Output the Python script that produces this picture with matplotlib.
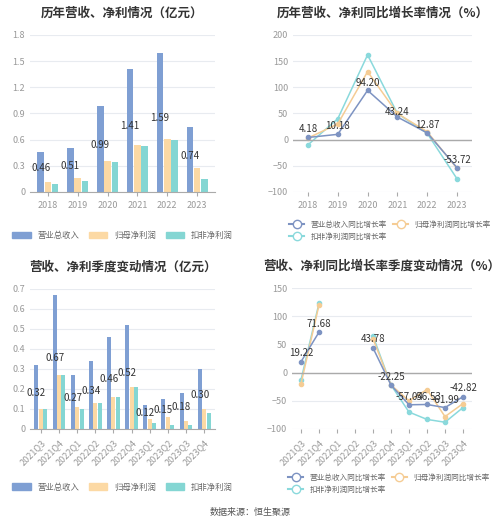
import matplotlib
matplotlib.use("Agg")
import matplotlib.pyplot as plt
import numpy as np
from matplotlib.lines import Line2D
from matplotlib.patches import Patch

plt.rcParams["font.family"] = ["Noto Sans CJK SC", "DejaVu Sans"]

years = ["2018", "2019", "2020", "2021", "2022", "2023"]
rev_y = [0.46, 0.51, 0.99, 1.41, 1.59, 0.74]
np_y = [0.12, 0.16, 0.36, 0.54, 0.61, 0.28]
kf_y = [0.09, 0.13, 0.34, 0.53, 0.60, 0.15]

rev_yg = [4.18, 10.18, 94.20, 43.24, 12.87, -53.72]
np_yg = [3, 30, 130, 50, 15, -55]
kf_yg = [-10, 40, 162, 50, 12, -75]

quarters = ["2021Q3", "2021Q4", "2022Q1", "2022Q2", "2022Q3", "2022Q4",
            "2023Q1", "2023Q2", "2023Q3", "2023Q4"]
rev_q = [0.32, 0.67, 0.27, 0.34, 0.46, 0.52, 0.12, 0.15, 0.18, 0.30]
np_q = [0.10, 0.27, 0.11, 0.13, 0.16, 0.21, 0.05, 0.06, 0.04, 0.10]
kf_q = [0.10, 0.27, 0.10, 0.13, 0.16, 0.21, 0.03, 0.02, 0.02, 0.08]

nan = np.nan
rev_qg = [19.22, 71.68, nan, nan, 43.78, -22.25, -57.04, -56.53, -61.99, -42.82]
np_qg = [-20, 120, nan, nan, 60, -22, -50, -30, -78, -55]
kf_qg = [-13, 123, nan, nan, 65, -22, -70, -83, -88, -62]

C_REV = "#7f9fd3"
C_NP = "#fcd9a4"
C_KF = "#84d6d3"
C_REV_L = "#7d93c2"
C_NP_L = "#f5cc94"
C_KF_L = "#8ad9dc"
GRID = "#e8ebf0"
TICK = "#999999"

W, H = 500, 524
fig = plt.figure(figsize=(W / 100, H / 100), dpi=100)


def px_axes(l, r, top, bot):
    return fig.add_axes([l / W, 1 - bot / H, (r - l) / W, (bot - top) / H])


def style(ax):
    for s in ["top", "right", "left"]:
        ax.spines[s].set_visible(False)
    ax.spines["bottom"].set_color("#aaaaaa")
    ax.tick_params(axis="both", colors=TICK, labelsize=6.5, length=0)
    ax.tick_params(axis="x", length=3, color="#aaaaaa")
    ax.grid(axis="y", color=GRID, linewidth=0.8)
    ax.set_axisbelow(True)


def bars(ax, cats, a, b, c, labels_fmt, width=0.22):
    x = np.arange(len(cats))
    ax.bar(x - width * 1.1, a, width, color=C_REV)
    ax.bar(x, b, width, color=C_NP)
    ax.bar(x + width * 1.1, c, width, color=C_KF)
    for xi, v in zip(x, a):
        ax.text(xi - width * 1.1, v / 2 + 0.03 * max(a), labels_fmt.format(v), ha="center", va="center",
                fontsize=7, color="#333333")
    ax.set_xticks(x)
    ax.set_xlim(-0.6, len(cats) - 0.4)
    style(ax)


def lines(ax, cats, a, b, c, labels, offsets):
    x = np.arange(len(cats))
    for ys, col in [(c, C_KF_L), (b, C_NP_L), (a, C_REV_L)]:
        ax.plot(x, ys, color=col, linewidth=1.1, marker="o", markersize=3,
                markerfacecolor=col)
    for xi, v, lab, off in zip(x, a, labels, offsets):
        if lab:
            ax.text(xi, v + off, lab, ha="center", va="center", fontsize=7, color="#333333")
    ax.axhline(0, color="#aaaaaa", linewidth=1)
    ax.set_xticks(x)
    ax.set_xlim(-0.5, len(cats) - 0.5)
    style(ax)
    ax.spines["bottom"].set_visible(False)


bar_legend = [Patch(color=C_REV, label="营业总收入"), Patch(color=C_NP, label="归母净利润"),
              Patch(color=C_KF, label="扣非净利润")]
# column-wise fill: rev, np on first row, kf on second
line_legend = [Line2D([0], [0], color=C_REV_L, marker="o", markerfacecolor="white", label="营业总收入同比增长率"),
               Line2D([0], [0], color=C_KF_L, marker="o", markerfacecolor="white", label="扣非净利润同比增长率"),
               Line2D([0], [0], color=C_NP_L, marker="o", markerfacecolor="white", label="归母净利润同比增长率")]

TITLE = dict(fontsize=9, fontweight="bold", color="#333333", pad=13)

# top-left
ax1 = px_axes(30, 215, 35, 192)
bars(ax1, years, rev_y, np_y, kf_y, "{:.2f}")
ax1.set_xticklabels(years)
ax1.set_ylim(0, 1.8)
ax1.set_yticks([0, 0.3, 0.6, 0.9, 1.2, 1.5, 1.8])
ax1.set_yticklabels(["0", "0.3", "0.6", "0.9", "1.2", "1.5", "1.8"])
ax1.set_title("历年营收、净利情况（亿元）", **TITLE)
ax1.legend(handles=bar_legend, loc="upper center", bbox_to_anchor=(0.5, -0.2), ncol=3, frameon=False,
           fontsize=6, labelcolor="#666666", handlelength=2.2, handleheight=0.9, columnspacing=1.2)

# top-right
ax2 = px_axes(293, 472, 35, 192)
lines(ax2, years, rev_yg, np_yg, kf_yg,
      ["4.18", "10.18", "94.20", "43.24", "12.87", "-53.72"], [17, 15, 14, 10, 16, 15])
ax2.set_xticklabels(years)
ax2.set_ylim(-100, 200)
ax2.set_yticks([-100, -50, 0, 50, 100, 150, 200])
ax2.set_title("历年营收、净利同比增长率情况（%）", **TITLE)
ax2.legend(handles=line_legend, loc="upper left", bbox_to_anchor=(-0.06, -0.14), ncol=2, frameon=False,
           fontsize=5.5, labelcolor="#666666", handlelength=2.0, columnspacing=0.8)

# bottom-left
ax3 = px_axes(30, 215, 289, 429)
bars(ax3, quarters, rev_q, np_q, kf_q, "{:.2f}")
ax3.set_xticklabels(quarters, rotation=45, ha="right", rotation_mode="anchor")
ax3.set_ylim(0, 0.7)
ax3.set_yticks([0, 0.1, 0.2, 0.3, 0.4, 0.5, 0.6, 0.7])
ax3.set_yticklabels(["0", "0.1", "0.2", "0.3", "0.4", "0.5", "0.6", "0.7"])
ax3.set_title("营收、净利季度变动情况（亿元）", **TITLE)
ax3.legend(handles=bar_legend, loc="upper center", bbox_to_anchor=(0.5, -0.33), ncol=3, frameon=False,
           fontsize=6, labelcolor="#666666", handlelength=2.2, handleheight=0.9, columnspacing=1.2)

# bottom-right
ax4 = px_axes(292, 472, 288, 429)
lines(ax4, quarters, rev_qg, np_qg, kf_qg,
      ["19.22", "71.68", "", "", "43.78", "-22.25", "-57.04", "-56.53", "-61.99", "-42.82"],
      [15, 15, 0, 0, 15, 15, 14, 14, 14, 16])
ax4.set_xticklabels(quarters, rotation=45, ha="right", rotation_mode="anchor")
ax4.set_ylim(-100, 150)
ax4.set_yticks([-100, -50, 0, 50, 100, 150])
ax4.set_title("营收、净利同比增长率季度变动情况（%）", **TITLE)
ax4.legend(handles=line_legend, loc="upper left", bbox_to_anchor=(-0.06, -0.27), ncol=2, frameon=False,
           fontsize=5.5, labelcolor="#666666", handlelength=2.0, columnspacing=0.8)

fig.text(0.5, 1 - 512 / H, "数据来源：恒生聚源", ha="center", va="center", fontsize=6.5, color="#555555")

fig.savefig("out.png", dpi=100)
